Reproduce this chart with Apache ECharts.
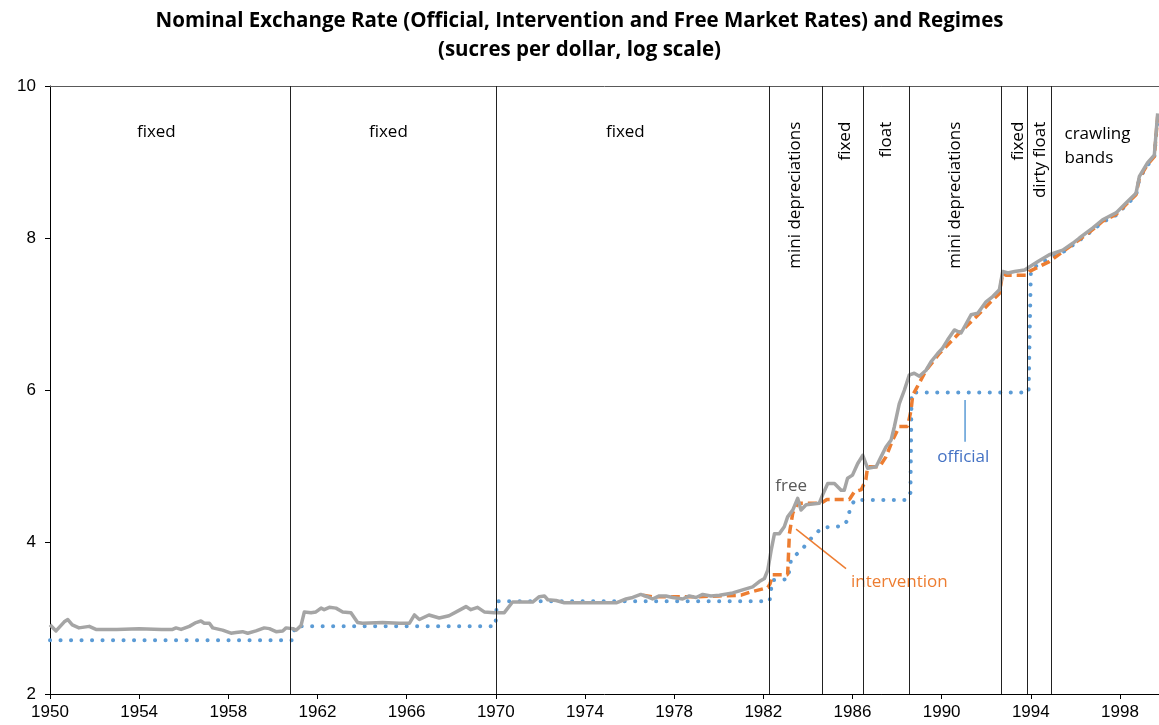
<!DOCTYPE html>
<html>
<head>
<meta charset="utf-8">
<script src="https://cdn.jsdelivr.net/npm/echarts@6/dist/echarts.min.js"></script>
<style>
  html, body { margin: 0; padding: 0; background: #fff; }
  #chart { width: 1159px; height: 725px; }
</style>
</head>
<body>
<div id="chart"></div>
<script>
// log of sucres per dollar, [year, value]
var officialRate = [
  [1950, 2.708], [1960.85, 2.708], [1961.0, 2.890], [1969.98, 2.890], [1970.05, 3.219],
  [1982.28, 3.219], [1982.4, 3.497], [1983.1, 3.51], [1983.25, 3.78], [1983.7, 3.89],
  [1984.0, 4.0], [1984.3, 4.1], [1984.66, 4.19], [1985.6, 4.21], [1985.78, 4.29],
  [1985.9, 4.45], [1986.1, 4.554], [1988.45, 4.554], [1988.6, 4.65], [1988.65, 5.966],
  [1993.9, 5.966], [1994.0, 7.54], [1994.05, 7.60], [1994.83, 7.73], [1995.43, 7.81],
  [1996.18, 7.97], [1996.77, 8.10], [1997.22, 8.21], [1997.82, 8.30], [1998.27, 8.43],
  [1998.72, 8.56], [1998.87, 8.78], [1999.24, 8.96], [1999.54, 9.06], [1999.69, 9.6]
];
var interventionRate = [
  [1976.6, 3.30], [1977.0, 3.28], [1978, 3.28], [1979, 3.28], [1980, 3.29], [1981.0, 3.30],
  [1981.4, 3.34], [1982.2, 3.40], [1982.3, 3.45], [1982.42, 3.57], [1983.09, 3.57],
  [1983.17, 4.11], [1983.32, 4.38], [1983.54, 4.51], [1984.6, 4.51], [1984.85, 4.56],
  [1985.86, 4.56], [1986.08, 4.66], [1986.4, 4.69], [1986.6, 4.82], [1986.68, 4.99],
  [1987.21, 4.99], [1987.5, 5.12], [1987.8, 5.34], [1988.1, 5.52], [1988.47, 5.52],
  [1988.63, 5.74], [1988.7, 5.93], [1989.3, 6.26], [1989.9, 6.48], [1990.79, 6.75],
  [1991.54, 6.96], [1992.14, 7.14], [1992.59, 7.27], [1992.74, 7.54], [1992.89, 7.51],
  [1993.79, 7.51], [1993.94, 7.56], [1994.83, 7.69], [1995.43, 7.82], [1996.18, 7.98],
  [1996.77, 8.11], [1997.22, 8.22], [1997.82, 8.31], [1998.27, 8.44], [1998.72, 8.57],
  [1998.87, 8.79], [1999.24, 8.97], [1999.54, 9.07], [1999.69, 9.6]
];
var freeRate = [
  [1950.0, 2.91], [1950.27, 2.83], [1950.64, 2.95], [1950.8, 2.98], [1951.0, 2.91],
  [1951.3, 2.87], [1951.76, 2.89], [1952.06, 2.85], [1953, 2.85], [1954, 2.86], [1955, 2.85],
  [1955.5, 2.85], [1955.65, 2.87], [1955.88, 2.85], [1956.25, 2.89], [1956.55, 2.94],
  [1956.77, 2.96], [1956.92, 2.93], [1957.15, 2.93], [1957.3, 2.87], [1957.74, 2.84],
  [1958.12, 2.80], [1958.34, 2.81], [1958.64, 2.82], [1958.87, 2.80], [1959.24, 2.83],
  [1959.61, 2.87], [1959.84, 2.86], [1960.14, 2.82], [1960.44, 2.83], [1960.59, 2.87],
  [1960.9, 2.86], [1961.04, 2.84], [1961.26, 2.90], [1961.41, 3.08], [1961.71, 3.07],
  [1961.93, 3.08], [1962.16, 3.13], [1962.3, 3.11], [1962.53, 3.14], [1962.83, 3.13],
  [1963.13, 3.08], [1963.5, 3.07], [1963.8, 2.94], [1964.02, 2.93], [1964.92, 2.94],
  [1965.67, 2.93], [1966.12, 2.93], [1966.35, 3.04], [1966.57, 2.98], [1967.0, 3.04],
  [1967.46, 3.00], [1967.9, 3.03], [1968.35, 3.10], [1968.66, 3.15], [1968.88, 3.11],
  [1969.18, 3.14], [1969.48, 3.08], [1969.93, 3.07], [1970.38, 3.07], [1970.75, 3.21],
  [1971.65, 3.21], [1971.95, 3.28], [1972.18, 3.29], [1972.33, 3.24], [1972.7, 3.23],
  [1973.07, 3.20], [1975.4, 3.20], [1975.84, 3.25], [1976.14, 3.27], [1976.5, 3.31],
  [1976.8, 3.28], [1977.03, 3.25], [1977.33, 3.29], [1977.63, 3.29], [1977.93, 3.27],
  [1978.38, 3.25], [1978.68, 3.29], [1978.98, 3.27], [1979.28, 3.31], [1979.65, 3.29],
  [1980.03, 3.30], [1980.63, 3.33], [1981.07, 3.37], [1981.52, 3.41], [1981.82, 3.48],
  [1982.05, 3.52], [1982.2, 3.63], [1982.35, 3.89], [1982.5, 4.11], [1982.72, 4.11],
  [1982.94, 4.20], [1983.09, 4.33], [1983.32, 4.42], [1983.54, 4.575], [1983.69, 4.42],
  [1983.92, 4.49], [1984.51, 4.51], [1984.66, 4.62], [1984.89, 4.77], [1985.19, 4.77],
  [1985.49, 4.68], [1985.63, 4.68], [1985.78, 4.84], [1986.0, 4.88], [1986.23, 5.03],
  [1986.46, 5.14], [1986.68, 4.97], [1987.06, 4.99], [1987.28, 5.12], [1987.5, 5.25],
  [1987.73, 5.34], [1987.88, 5.52], [1988.1, 5.82], [1988.33, 6.0], [1988.55, 6.20],
  [1988.77, 6.22], [1989.0, 6.18], [1989.3, 6.26], [1989.52, 6.37], [1989.82, 6.48],
  [1990.04, 6.55], [1990.27, 6.66], [1990.57, 6.79], [1990.87, 6.75], [1991.32, 6.99],
  [1991.62, 7.01], [1991.99, 7.16], [1992.29, 7.23], [1992.59, 7.32], [1992.74, 7.56],
  [1992.97, 7.54], [1993.27, 7.56], [1993.72, 7.58], [1994.32, 7.69], [1994.83, 7.78],
  [1995.43, 7.84], [1995.88, 7.93], [1996.18, 8.0], [1996.77, 8.13], [1997.22, 8.24],
  [1997.82, 8.33], [1998.27, 8.46], [1998.72, 8.59], [1998.87, 8.81], [1999.24, 8.99],
  [1999.54, 9.09], [1999.69, 9.64]
];

// regime boundaries and names
var regimeBreaks = [1960.77, 1970.0, 1982.28, 1984.66, 1986.5, 1988.54, 1992.69, 1993.86, 1994.91];
var flatRegimes = [[1954.77, 9.39, 'fixed'], [1965.18, 9.39, 'fixed'], [1975.81, 9.39, 'fixed']];
var crawlingNote = [[1995.51, 9.21, 'crawling\nbands']];
var uprightRegimes = [[1983.44, 9.53, 'mini depreciations'], [1985.68, 9.53, 'fixed'],
  [1987.52, 9.53, 'float'], [1990.62, 9.53, 'mini depreciations'], [1993.44, 9.53, 'fixed'],
  [1994.43, 9.53, 'dirty float']];

// series labels and their leader lines
var seriesNotes = [[1983.25, 4.74, 'free', '#595959'], [1990.97, 5.12, 'official', '#4472C4'],
  [1988.1, 3.47, 'intervention', '#ED7D31']];
var officialLeader = [[1991.05, 5.87], [1991.05, 5.32]];
var interventionLeader = [[1983.47, 4.17], [1985.71, 3.65]];

var dom = document.getElementById('chart');
var myChart = echarts.init(dom, null, { renderer: 'canvas' });

var txtFont = 'Open Sans';

function textSeries(rows, label) {
  return {
    type: 'scatter', symbolSize: 0, silent: true,
    itemStyle: { opacity: 1 },
    data: rows.map(function (d) {
      var item = { value: [d[0], d[1]], name: d[2] };
      if (d[3]) item.label = { color: d[3] };
      return item;
    }),
    label: Object.assign({
      show: true, position: 'inside', formatter: '{b}', color: '#000',
      fontFamily: txtFont, fontSize: 17, verticalAlign: 'middle'
    }, label)
  };
}

var regimeSeries = textSeries(flatRegimes, { align: 'center' });
regimeSeries.markLine = {
  silent: true, symbol: ['none', 'none'], label: { show: false },
  lineStyle: { color: '#222', width: 1, type: 'solid' },
  data: regimeBreaks.map(function (x) { return { xAxis: x }; })
};

var option = {
  animation: false,
  title: {
    text: 'Nominal Exchange Rate (Official, Intervention and Free Market Rates) and Regimes\n(sucres per dollar, log scale)',
    left: 'center',
    top: 2,
    textStyle: { fontFamily: txtFont, fontWeight: 'bold', fontSize: 20.5, lineHeight: 29, color: '#000' }
  },
  grid: { left: 50, right: 0, top: 86, bottom: 31 },
  xAxis: [{
    type: 'value', min: 1950, max: 1999.75, interval: 4,
    axisLine: { onZero: false, lineStyle: { color: '#000', width: 1 } },
    axisTick: { show: true, length: 5, lineStyle: { color: '#000' } },
    splitLine: { show: false },
    axisLabel: {
      showMaxLabel: false, margin: 10, color: '#000', fontFamily: 'Liberation Sans', fontSize: 17,
      formatter: function (v) { return (v - 1950) % 4 === 0 ? String(v) : ''; }
    }
  }, {
    type: 'value', min: 1950, max: 1999.75, position: 'top',
    axisLine: { show: true, lineStyle: { color: '#595959', width: 1 } },
    axisTick: { show: false }, axisLabel: { show: false }, splitLine: { show: false }
  }],
  yAxis: {
    type: 'value', min: 2, max: 10, interval: 2,
    axisLine: { show: true, lineStyle: { color: '#000', width: 1 } },
    axisTick: { show: true, length: 5, lineStyle: { color: '#000' } },
    splitLine: { show: false },
    axisLabel: { margin: 14, color: '#000', fontFamily: 'Liberation Sans', fontSize: 17 }
  },
  series: [
    regimeSeries,
    textSeries(crawlingNote, { align: 'left', lineHeight: 24 }),
    textSeries(uprightRegimes, { align: 'right', rotate: 90 }),
    {
      name: 'official', type: 'line', data: officialRate, showSymbol: false,
      lineStyle: { color: '#5B9BD5', width: 4, type: [0.1, 10.4], cap: 'round' }
    },
    {
      name: 'intervention', type: 'line', data: interventionRate, showSymbol: false,
      lineStyle: { color: '#ED7D31', width: 3.5, type: [9, 5] }
    },
    {
      name: 'free', type: 'line', data: freeRate, showSymbol: false,
      lineStyle: { color: '#A5A5A5', width: 3.5, join: 'round' }
    },
    {
      type: 'line', data: officialLeader, showSymbol: false, silent: true,
      lineStyle: { color: '#5B9BD5', width: 1.5 }
    },
    {
      type: 'line', data: interventionLeader, showSymbol: false, silent: true,
      lineStyle: { color: '#ED7D31', width: 1.5 }
    },
    textSeries(seriesNotes, { align: 'center' })
  ]
};

myChart.setOption(option);
window.addEventListener('resize', myChart.resize);
</script>
</body>
</html>
